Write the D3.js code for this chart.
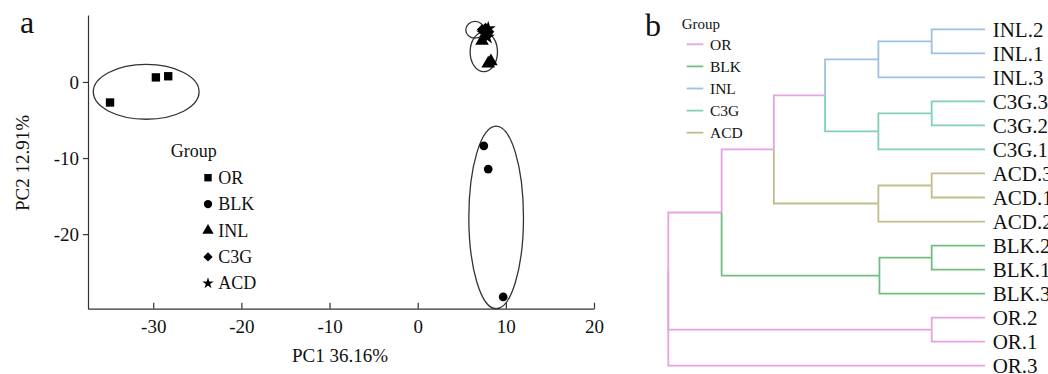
<!DOCTYPE html>
<html>
<head>
<meta charset="utf-8">
<script src="https://cdn.jsdelivr.net/npm/d3@7"></script>
<style>
  body { margin: 0; background: #fff; }
  text { font-family: "Liberation Serif", "Times New Roman", serif; fill: #111; }
  .axis path, .axis line { stroke: #333; stroke-width: 1.2; }
</style>
</head>
<body>
<script>
//groups, marker shapes and dendrogram colours
var groups = ["OR", "BLK", "INL", "C3G", "ACD"];
var groupColors = ["#e8a2de", "#72bd82", "#9ec0e2", "#80cfbb", "#c1bd8b"];

//PCA scores [PC1, PC2] per group
var scoresOR  = [[-29.7, 0.6], [-28.3, 0.75], [-34.9, -2.7]];
var scoresBLK = [[7.5, -8.4], [8.0, -11.45], [9.7, -28.25]];
var scoresINL = [[7.3, 5.4], [8.3, 2.7], [8.0, 2.4]];
var scoresC3G = [[7.3, 6.9], [7.7, 7.1], [8.1, 6.6]];
var scoresACD = [[7.5, 6.4], [8.0, 7.0], [7.9, 5.9]];

//confidence ellipses [centre PC1, centre PC2, radius PC1, radius PC2]
var ellipses = [[-30.8, -1.3, 6.0, 3.6], [8.9, -17.8, 3.1, 12.0], [6.5, 6.85, 1.05, 1.1], [7.5, 3.95, 1.55, 2.6]];

var xTicks = [-30, -20, -10, 0, 10, 20];
var yTicks = [0, -10, -20];

//dendrogram leaves, top to bottom
var leaves = ["INL.2", "INL.1", "INL.3", "C3G.3", "C3G.2", "C3G.1", "ACD.3", "ACD.1", "ACD.2",
              "BLK.2", "BLK.1", "BLK.3", "OR.2", "OR.1", "OR.3"];
//merges [node, child 1, child 2, height]
var merges = [
  ["INL21", "INL.2", "INL.1", 1.0],
  ["INLn", "INL21", "INL.3", 2.0],
  ["C3G32", "C3G.3", "C3G.2", 1.0],
  ["C3Gn", "C3G32", "C3G.1", 2.0],
  ["D", "INLn", "C3Gn", 3.0],
  ["ACD31", "ACD.3", "ACD.1", 1.0],
  ["ACDn", "ACD31", "ACD.2", 2.0],
  ["C", "D", "ACDn", 3.96],
  ["BLK21", "BLK.2", "BLK.1", 1.0],
  ["BLKn", "BLK21", "BLK.3", 1.98],
  ["A", "C", "BLKn", 4.94],
  ["OR12", "OR.2", "OR.1", 1.0],
  ["B", "A", "OR12", 5.94],
  ["root", "B", "OR.3", 5.94]
];

var width = 1048, height = 374;
var svg = d3.select("body").append("svg")
  .attr("width", width)
  .attr("height", height);

var colorOf = d3.scaleOrdinal().domain(groups).range(groupColors);

drawPca();
drawTree();

//panel a: PCA score plot
function drawPca(){
  var x = d3.scaleLinear().domain([-37.4, 20]).range([88, 594]);
  var y = d3.scaleLinear().domain([-29.8, 8.8]).range([308.7, 15]);
  //plain hyphen for negatives, like the original
  var fmt = function(d){ return String(d); };

  svg.append("g")
    .attr("class", "axis")
    .attr("transform", "translate(88,0)")
    .call(d3.axisLeft(y).tickValues(yTicks).tickFormat(fmt).tickSize(5).tickSizeOuter(0).tickPadding(4))
    .call(function(g){ g.selectAll("text").style("font-size", "19px").attr("fill", "#111"); });

  svg.append("g")
    .attr("class", "axis")
    .attr("transform", "translate(0,308.7)")
    .call(d3.axisBottom(x).tickValues(xTicks).tickFormat(fmt).tickSize(-6).tickSizeOuter(0).tickPadding(11))
    .call(function(g){ g.selectAll("text").style("font-size", "19px").attr("fill", "#111"); });

  //ellipses
  svg.append("g").selectAll("ellipse")
    .data(ellipses)
    .enter()
    .append("ellipse")
    .attr("cx", function(d){ return x(d[0]); })
    .attr("cy", function(d){ return y(d[1]); })
    .attr("rx", function(d){ return x(d[0] + d[2]) - x(d[0]); })
    .attr("ry", function(d){ return y(d[1] - d[3]) - y(d[1]); })
    .attr("fill", "none")
    .attr("stroke", "#333")
    .attr("stroke-width", 1.3);

  var shapes = [d3.symbolSquare, d3.symbolCircle, d3.symbolTriangle, d3.symbolDiamond2, d3.symbolStar];
  var sizes = [70, 60, 80, 70, 70];
  var allScores = [scoresOR, scoresBLK, scoresINL, scoresC3G, scoresACD];

  for (var i = 0; i < groups.length; i++){
    var sym = d3.symbol().type(shapes[i]).size(sizes[i]);
    svg.append("g").selectAll("path")
      .data(allScores[i])
      .enter()
      .append("path")
      .attr("d", sym)
      .attr("transform", function(d){ return "translate(" + x(d[0]) + "," + y(d[1]) + ")"; })
      .attr("fill", "#000");
  }

  //legend
  var legend = svg.append("g");
  legend.append("text")
    .attr("x", 170.7).attr("y", 156.7)
    .style("font-size", "18px")
    .text("Group");
  var rows = legend.selectAll(".row")
    .data(groups)
    .enter()
    .append("g")
    .attr("transform", function(d, i){ return "translate(0," + (177.7 + i * 26.4) + ")"; });
  rows.append("path")
    .attr("d", function(d, i){ return d3.symbol().type(shapes[i]).size(i == 4 ? 40 : 55)(); })
    .attr("transform", "translate(208,0)")
    .attr("fill", "#000");
  rows.append("text")
    .attr("x", 218.3).attr("y", 6)
    .style("font-size", "18px")
    .text(function(d){ return d; });

  //titles
  svg.append("text")
    .attr("x", 20).attr("y", 33)
    .style("font-size", "32px")
    .text("a");
  svg.append("text")
    .attr("x", 340).attr("y", 362)
    .attr("text-anchor", "middle")
    .style("font-size", "19px")
    .text("PC1 36.16%");
  svg.append("text")
    .attr("transform", "translate(29,163) rotate(-90)")
    .attr("text-anchor", "middle")
    .style("font-size", "19px")
    .text("PC2 12.91%");
}

//panel b: cluster dendrogram
function drawTree(){
  //build nested tree from the merge table
  var nodes = {};
  leaves.forEach(function(l){ nodes[l] = {name: l, height: 0}; });
  merges.forEach(function(m){
    nodes[m[0]] = {name: m[0], height: m[3], children: [nodes[m[1]], nodes[m[2]]]};
  });
  var root = d3.hierarchy(nodes["root"]);

  var hx = d3.scaleLinear().domain([0, 5.94]).range([985, 668.3]);
  var ly = d3.scalePoint().domain(leaves).range([29.3, 365.7]);

  //positions: leaves from scale, internal nodes at mean of children
  root.eachAfter(function(n){
    n.px = hx(n.data.height);
    if (!n.children) {
      n.py = ly(n.data.name);
      n.group = n.data.name.split(".")[0];
    } else {
      n.py = d3.mean(n.children, function(c){ return c.py; });
      var g0 = n.children[0].group;
      n.group = n.children.every(function(c){ return c.group === g0; }) ? g0 : null;
    }
  });

  var links = root.links();
  svg.append("g").selectAll("path")
    .data(links)
    .enter()
    .append("path")
    .attr("d", function(d){
      return "M" + d.source.px + "," + d.source.py + "V" + d.target.py + "H" + d.target.px;
    })
    .attr("fill", "none")
    .attr("stroke", function(d){ return d.target.group ? colorOf(d.target.group) : colorOf("OR"); })
    .attr("stroke-width", 1.8);

  //leaf labels run off the right edge, as in the original figure
  svg.append("g").selectAll("text")
    .data(leaves)
    .enter()
    .append("text")
    .attr("x", 992.7)
    .attr("y", function(d){ return ly(d) + 7.5; })
    .style("font-size", "21px")
    .text(function(d){ return d; });

  //legend
  svg.append("text")
    .attr("x", 681.7).attr("y", 28.5)
    .style("font-size", "15px")
    .text("Group");
  var rows = svg.append("g").selectAll("g")
    .data(groups)
    .enter()
    .append("g")
    .attr("transform", function(d, i){ return "translate(0," + (44.3 + i * 22.1) + ")"; });
  rows.append("line")
    .attr("x1", 686.7).attr("x2", 703.3)
    .attr("stroke", function(d){ return colorOf(d); })
    .attr("stroke-width", 1.8);
  rows.append("text")
    .attr("x", 710).attr("y", 5.2)
    .style("font-size", "15.5px")
    .text(function(d){ return d; });

  svg.append("text")
    .attr("x", 645).attr("y", 36)
    .style("font-size", "32px")
    .text("b");
}
</script>
</body>
</html>
